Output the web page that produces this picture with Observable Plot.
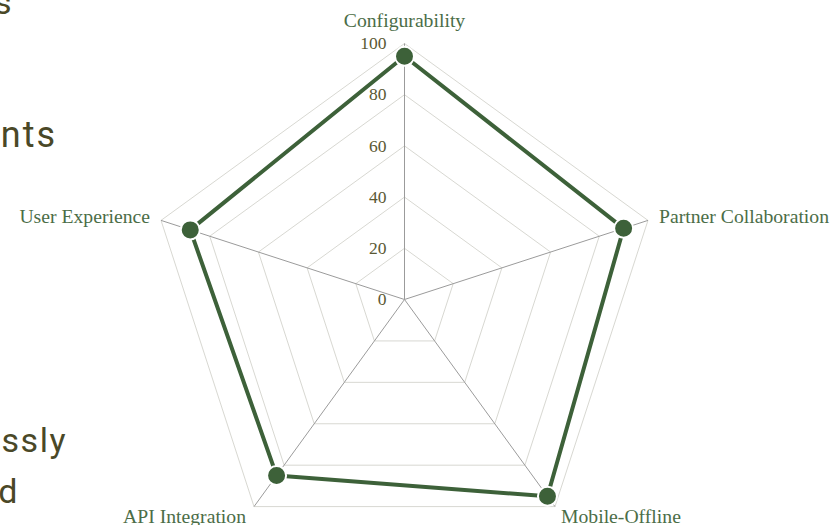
<!DOCTYPE html>
<html>
<head>
<meta charset="utf-8">
<script src="https://cdn.jsdelivr.net/npm/d3@7"></script>
<script src="https://cdn.jsdelivr.net/npm/@observablehq/plot@0.6"></script>
<style>
  html, body { margin: 0; padding: 0; background: #fff; }
  #wrap { position: relative; width: 838px; height: 525px; overflow: hidden; }
  #chart { position: absolute; left: 0; top: 0; }
  .frag { position: absolute; white-space: nowrap; text-align: right;
          font-family: Roboto, sans-serif; font-size: 34px; letter-spacing: 1.5px; color: #4a4827; line-height: 1; }
</style>
</head>
<body>
<div id="wrap">
  <div id="chart"></div>
  <span class="frag" style="right:825px; top:-15px;">s</span>
  <span class="frag" style="right:781px; top:117px; font-size:36px; letter-spacing:2px;">ents</span>
  <span class="frag" style="right:771px; top:423px;">ssly</span>
  <span class="frag" style="right:819px; top:474px;">d</span>
</div>
<script>
// ---- data ----
const axes = ["Configurability", "Partner Collaboration", "Mobile-Offline", "API Integration", "User Experience"];
const scores = [95, 90, 95, 85, 88];
const ringLevels = [20, 40, 60, 80, 100];
const tickValues = [0, 20, 40, 60, 80, 100];
const tickLabels = ["0", "20", "40", "60", "80", "100"];

// ---- layout helpers ----
const W = 838, H = 525;
const cx = 404, cy = 299, R = 256; // px center and px radius of 100
const k = R / 100;
const angle = i => Math.PI / 2 - i * 2 * Math.PI / axes.length;
const px = (r, i) => r * Math.cos(angle(i));
const py = (r, i) => r * Math.sin(angle(i));

const ringPts = [];
for (const lv of ringLevels) {
  for (let i = 0; i <= axes.length; i++) {
    ringPts.push({level: lv, x: px(lv, i % axes.length), y: py(lv, i % axes.length)});
  }
}
const spokes = axes.map((a, i) => ({axis: a, x2: px(100, i), y2: py(100, i)}));
const pts = axes.map((a, i) => ({axis: a, value: scores[i], x: px(scores[i], i), y: py(scores[i], i)}));
const ticks = tickValues.map((v, i) => ({v, label: tickLabels[i]}));
const labels = axes.map((a, i) => ({axis: a, i, x: px(100, i), y: py(100, i), c: Math.cos(angle(i)), s: Math.sin(angle(i))}));

const green = "#3d6139";
const labelGreen = "#4b6d47";
const font = "'Liberation Serif', 'Times New Roman', serif";
const fs = 19.7;

const chart = Plot.plot({
  width: W,
  height: H,
  margin: 0,
  x: {domain: [-cx / k, (W - cx) / k], axis: null},
  y: {domain: [-(H - cy) / k, cy / k], axis: null},
  style: {fontFamily: font, background: "transparent"},
  marks: [
    Plot.line(ringPts, {x: "x", y: "y", z: "level", stroke: "#d8d8d2", strokeWidth: 1}),
    Plot.link(spokes, {x1: () => 0, y1: () => 0, x2: "x2", y2: "y2", stroke: "#9b9b9b", strokeWidth: 1}),
    Plot.text(ticks, {x: () => 0, y: "v", text: "label", textAnchor: "end", dx: -18, fill: "#5a5833", fontSize: 17.5}),
    Plot.line(pts, {x: "x", y: "y", curve: "linear-closed", stroke: green, strokeWidth: 4, strokeLinejoin: "round"}),
    Plot.dot(pts, {x: "x", y: "y", r: 9.5, fill: green, stroke: "#fff", strokeWidth: 2}),
    // top label
    Plot.text(labels.filter(d => Math.abs(d.c) < 0.1), {x: "x", y: "y", text: "axis", textAnchor: "middle", dy: -23, fill: labelGreen, fontSize: fs}),
    // upper side labels
    Plot.text(labels.filter(d => d.c > 0.1 && d.s > 0), {x: "x", y: "y", text: "axis", textAnchor: "start", dx: 11, dy: -4, fill: labelGreen, fontSize: fs}),
    Plot.text(labels.filter(d => d.c < -0.1 && d.s > 0), {x: "x", y: "y", text: "axis", textAnchor: "end", dx: -11, dy: -4, fill: labelGreen, fontSize: fs}),
    // lower labels
    Plot.text(labels.filter(d => d.c > 0.1 && d.s < 0), {x: "x", y: "y", text: "axis", textAnchor: "start", dx: 6, dy: 10, fill: labelGreen, fontSize: fs}),
    Plot.text(labels.filter(d => d.c < -0.1 && d.s < 0), {x: "x", y: "y", text: "axis", textAnchor: "end", dx: -8, dy: 10, fill: labelGreen, fontSize: fs})
  ]
});
document.getElementById("chart").appendChild(chart);
</script>
</body>
</html>
